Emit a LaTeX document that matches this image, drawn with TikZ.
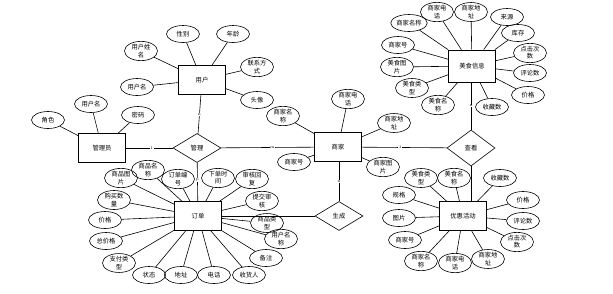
\documentclass[tikz,border=0pt]{standalone}
\usepackage{fontspec}
\newfontfamily\cjk{Noto Sans CJK SC}
\usetikzlibrary{shapes.geometric}
\begin{document}
\begin{tikzpicture}[x=1pt,y=-1pt,
  every node/.style={font=\cjk\fontsize{6.3}{7.2}\selectfont},
  ent/.style={draw,line width=0.8pt,minimum width=47pt,minimum height=29pt,inner sep=0pt},
  rel/.style={draw,diamond,line width=0.6pt,minimum width=48pt,minimum height=29pt,inner sep=0pt},
  att/.style={draw,ellipse,line width=0.6pt,minimum width=33pt,minimum height=17pt,inner sep=0.3pt,align=center},
  lnk/.style={line width=0.6pt},
  card/.style={font=\fontsize{4}{4}\selectfont,inner sep=0.5pt,fill=white}]
\useasboundingbox (0,0) rectangle (613,293);
% entities
\node[ent] (yh) at (202,80) {用户};
\node[ent] (gly) at (102,148) {管理员};
\node[ent] (sj) at (338,147) {商家};
\node[ent,minimum height=32pt] (ms) at (472,66) {美食信息};
\node[ent] (dd) at (198,216) {订单};
\node[ent] (yhhd) at (463,216) {优惠活动};
% relations
\node[rel] (gl) at (197,148) {管理};
\node[rel,minimum height=36pt] (ck) at (471,148) {查看};
\node[rel] (sc) at (339,216) {生成};
% relation links
\draw[lnk] (gly) -- (gl) node[card,pos=0.55] {1};
\draw[lnk] (gl) -- (sj) node[card,pos=0.55] {m};
\draw[lnk] (yh) -- (gl) node[card,pos=0.5] {n};
\draw[lnk] (gl) -- (dd) node[card,pos=0.45] {p};
\draw[lnk] (sj) -- (ck) node[card,pos=0.45] {1};
\draw[lnk] (ck.north) -- (ck.north |- ms.south) node[card,pos=0.5] {n};
\draw[lnk] (ck.south) -- (ck.south |- yhhd.north);
\draw[lnk] (sj.south -| sc.north) -- (sc.north) node[card,pos=0.5] {n};
\draw[lnk] (sc) -- (dd);
% user attributes
\foreach \n/\p/\t in {u1/{183,34}/性别, u2/{233,34}/年龄, u3/{141,51}/{用户姓\\名}, u4/{257,67}/{联系方\\式}, u5/{137,87}/用户名, u6/{257,100}/头像}
  {\node[att] (\n) at (\p) {\t}; \draw[lnk] (\n) -- (yh);}
% admin attributes
\foreach \n/\p/\t in {a1/{91,104}/用户名, a2/{138,115}/密码, a3/{48,120}/角色}
  {\node[att] (\n) at (\p) {\t}; \draw[lnk] (\n) -- (gly);}
% merchant attributes
\foreach \n/\p/\t in {s1/{283,116}/{商家名\\称}, s2/{348,99}/{商家电\\话}, s3/{394,123}/{商家地\\址}, s4/{294,162}/商家号, s5/{383,167}/{商家图\\片}}
  {\node[att] (\n) at (\p) {\t}; \draw[lnk] (\n) -- (sj);}
% food attributes
\foreach \n/\p/\t in {m1/{409,23}/商家名称, m2/{437,12}/{商家电\\话}, m3/{471,12}/{商家地\\址}, m4/{507,17}/来源, m5/{518,33}/库存, m6/{530,53}/{点击次\\数}, m7/{530,73}/评论数, m8/{528,95}/价格, m9/{492,107}/收藏数, m10/{438,105}/{美食名\\称}, m11/{412,88}/{美食类\\型}, m12/{397,67}/{美食图\\片}, m13/{398,45}/商家号}
  {\node[att] (\n) at (\p) {\t}; \draw[lnk] (\n) -- (ms);}
% promotion attributes
\foreach \n/\p/\t in {p1/{421,178}/{美食类\\型}, p2/{454,178}/{美食名\\称}, p3/{500,178}/收藏数, p4/{523,200}/价格, p5/{523,221}/评论数, p6/{517,242}/{点击次\\数}, p7/{488,259}/{商家地\\址}, p8/{455,263}/{商家电\\话}, p9/{421,261}/{商家名\\称}, p10/{405,240}/商家号, p11/{399,218}/图片, p12/{399,195}/规格}
  {\node[att] (\n) at (\p) {\t}; \draw[lnk] (\n) -- (yhhd);}
% order attributes
\foreach \n/\p/\t in {o1/{121,178}/{商品图\\片}, o2/{148,170}/{商品名\\称}, o3/{178,179}/{订单编\\号}, o4/{218,178}/{下单时\\间}, o5/{252,179}/{审核回\\复}, o6/{262,201}/{提交审\\核}, o7/{267,223}/{商品类\\型}, o8/{281,239}/{用户名\\称}, o9/{266,258}/备注, o10/{249,275}/收货人, o11/{214,275}/电话, o12/{181,275}/地址, o13/{149,275}/状态, o14/{119,263}/{支付类\\型}, o15/{106,241}/总价格, o16/{105,220}/价格, o17/{114,200}/{购买数\\量}}
  {\node[att] (\n) at (\p) {\t}; \draw[lnk] (\n) -- (dd);}
\end{tikzpicture}
\end{document}
